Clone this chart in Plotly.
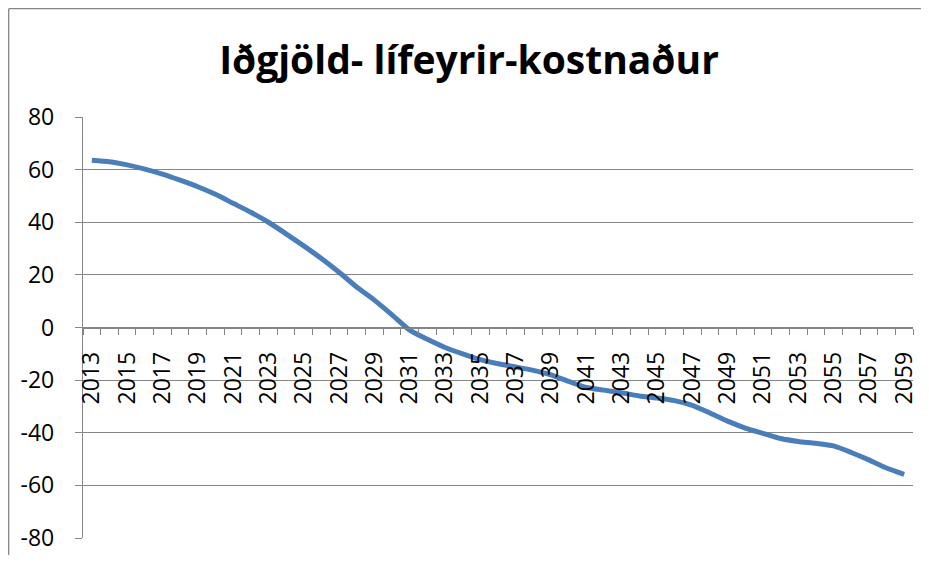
import plotly.graph_objects as go

years = list(range(2013, 2060))
values = [63.6, 63.0, 61.8, 60.2, 58.3, 56.0, 53.5, 50.6, 47.2, 43.8,
          40.0, 35.6, 31.0, 26.2, 21.0, 15.4, 10.4, 4.8, -1.0, -4.5,
          -7.6, -10.0, -12.2, -13.8, -15.0, -16.3, -18.0, -20.5, -22.8, -23.8,
          -24.8, -26.0, -26.8, -27.8, -29.6, -32.5, -35.6, -38.2, -40.2, -42.2,
          -43.3, -44.0, -45.0, -47.5, -50.3, -53.4, -55.8]
label_years = list(range(2013, 2060, 2))
y_ticks = list(range(-80, 81, 20))
title = "Iðgjöld- lífeyrir-kostnaður"

GRAY = "#868686"
FONT = "Open Sans"

W, H = 913, 547
L, T, R, B = 75, 109, 8, 17
PW, PH = W - L - R, H - T - B

fig = go.Figure()
fig.add_trace(go.Scatter(
    x=years, y=values, mode="lines",
    line=dict(color="#4a7ebb", width=5, shape="spline", smoothing=0.6),
    showlegend=False, hoverinfo="skip"))

fig.update_layout(
    width=W, height=H,
    margin=dict(l=L, r=R, t=T, b=B, autoexpand=False),
    paper_bgcolor="white", plot_bgcolor="white",
    title=dict(text="<b>" + title + "</b>", x=461 / W, xanchor="center", xref="container",
               y=1 - 52 / H, yanchor="middle", yref="container",
               font=dict(family=FONT, size=39, color="black")),
    font=dict(family=FONT, color="black"),
)
fig.update_xaxes(
    automargin=False,
    range=[2012.5, 2059.5], anchor="free", position=0.5,
    tickmode="array", tickvals=label_years, ticktext=[str(y) for y in label_years],
    tickangle=-90, ticks="", ticklabelstandoff=14,
    tickfont=dict(family=FONT, size=23, color="black"),
    showline=True, linecolor=GRAY, linewidth=1.3, showgrid=False, zeroline=False,
    minor=dict(tickmode="linear", tick0=2012.5, dtick=1, ticks="outside",
               ticklen=6, tickcolor=GRAY, tickwidth=1.3, showgrid=False),
)
fig.update_yaxes(
    automargin=False,
    range=[-80, 80], tickmode="array", tickvals=y_ticks,
    ticktext=[str(v) for v in y_ticks],
    ticks="outside", ticklen=7, tickcolor=GRAY, tickwidth=1.3,
    ticklabelstandoff=16,
    tickfont=dict(family=FONT, size=23, color="black"),
    showline=True, linecolor=GRAY, linewidth=1.3,
    showgrid=True, gridcolor=GRAY, gridwidth=1.3, zeroline=False,
)
# outer chart frame (left and top edges visible in the window)
fx = (0.7 - L) / PW
fy = (H - 0.7 - B) / PH
fig.add_shape(type="line", xref="paper", yref="paper",
              x0=fx, x1=fx, y0=-0.1, y1=fy,
              line=dict(color=GRAY, width=1.3), layer="below")
fig.add_shape(type="line", xref="paper", yref="paper",
              x0=fx, x1=1.1, y0=fy, y1=fy,
              line=dict(color=GRAY, width=1.3), layer="below")

fig.write_html("out.html")
